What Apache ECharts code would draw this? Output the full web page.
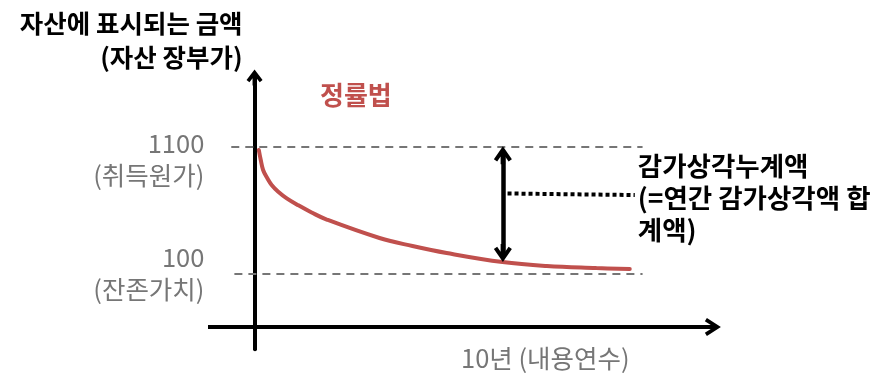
<!DOCTYPE html>
<html>
<head>
<meta charset="utf-8">
<script src="https://cdn.jsdelivr.net/npm/echarts@6/dist/echarts.min.js"></script>
<style>
  html, body { margin: 0; padding: 0; background: #fff; }
  #chart { width: 890px; height: 391px; }
</style>
</head>
<body>
<div id="chart"></div>
<script>
// book value under the declining-balance method
const years = [0.11, 0.16, 0.22, 0.33, 0.44, 0.61, 0.83, 1.13, 1.47, 1.86, 3.22, 4.07, 4.95, 6.39, 7.53, 8.81, 9.67]
const bookValues = [1071, 992, 914, 848, 796, 743, 691, 636, 580, 524, 379, 316, 261, 190, 159, 143, 135]

const costValue = 1100
const residualValue = 100
const usefulLife = 10
const refValues = [costValue, residualValue]
const refLabels = ['1100', '100']
const refSubLabels = ['(취득원가)', '(잔존가치)']

const yTitleLines = ['자산에 표시되는 금액', '(자산 장부가)']
const xTickLabel = '10년 (내용연수)'
const methodLabel = '정률법'
const noteLines = ['감가상각누계액', '(=연간 감가상각액 합', '계액)']

// accumulated depreciation arrow: year and the book value it reaches
const arrowYear = 6.4
const arrowBottom = 190
// dotted leader from the arrow to the note
const leaderFrom = [6.52, 729]
const leaderTo = [9.8, 717]

const X_MIN = -1.2, X_MAX = 11.8
const Y_MIN = -495, Y_MAX = 1640
const xAxisLevel = -320
const gridH = 271.6
const pxPerUnit = gridH / (Y_MAX - Y_MIN)

const font = "'Noto Sans CJK KR', 'Noto Sans', sans-serif"
const gray = '#767676'
const red = '#c0504d'

// filled "open" arrow head with shaft, pointing up, W wide and L long
function arrowPath(W, H, t, s, L) {
  const len = Math.hypot(W / 2, H)
  const nx = t * H / len, ny = t * W / (2 * len)
  const yj = ny + (s / 2 + nx) * (2 * H / W)
  const c = W / 2
  const pts = [[c, 0], [W, H], [W - nx, H + ny], [c + s / 2, yj], [c + s / 2, L],
    [c - s / 2, L], [c - s / 2, yj], [nx, H + ny], [0, H]]
  return 'path://M' + pts.map(p => p[0].toFixed(2) + ',' + p[1].toFixed(2)).join(' L') + ' Z'
}

const yArrow = arrowPath(16, 10.5, 3.6, 4, 16)
const xArrow = arrowPath(18, 14, 3.8, 4, 17)
const dArrow = arrowPath(18, 13, 4, 4.5, 18)
const dOff = 9 / pxPerUnit

const chart = echarts.init(document.getElementById('chart'))

const dashed = { color: gray, width: 2, type: [8, 6] }
const grayText = { color: gray, fontSize: 25.5, lineHeight: 32, fontFamily: font }
const boldText = { color: '#000', fontSize: 26.5, fontWeight: 'bold', lineHeight: 32, fontFamily: font }

// stacked label; an optional spacer line pushes the block down
function stacked(lines, gap) {
  const body = lines.map(l => '{t|' + l + '}').join('\n')
  return gap ? '{g| }\n' + body : body
}

chart.setOption({
  animation: false,
  title: {
    text: methodLabel, left: 320, top: 82, padding: 0,
    textStyle: { color: red, fontSize: 26, fontWeight: 'bold', fontFamily: font }
  },
  grid: { left: 208, top: 77.6, width: 504.4, height: gridH },
  xAxis: {
    type: 'value', min: X_MIN, max: X_MAX,
    axisLine: { show: false },
    axisTick: { show: false },
    splitLine: { show: false },
    axisLabel: {
      customValues: [usefulLife],
      formatter: () => xTickLabel,
      align: 'right', verticalAlign: 'middle', margin: 9,
      padding: [0, 13, 0, 0],
      color: gray, fontSize: 25.5, fontFamily: font
    }
  },
  yAxis: {
    type: 'value', min: Y_MIN, max: Y_MAX,
    name: yTitleLines.join('\n'),
    nameLocation: 'end', nameGap: 3,
    nameTextStyle: {
      align: 'right', verticalAlign: 'bottom', padding: [0, 12, 0, 0],
      color: '#000', fontSize: 25.5, fontWeight: 'bold', lineHeight: 34, fontFamily: font
    },
    axisLine: {
      show: true, onZero: true,
      symbol: ['none', yArrow], symbolSize: [16, 16],
      lineStyle: { color: '#000', width: 4 }
    },
    axisTick: { show: false },
    axisLabel: { show: false },
    splitLine: { show: false }
  },
  series: [
    {
      type: 'line',
      data: years.map((y, i) => [y, bookValues[i]]),
      smooth: 0.4,
      showSymbol: false,
      z: 3,
      lineStyle: { color: red, width: 4, cap: 'round' }
    },
    {
      type: 'line',
      data: [],
      z: 5,
      markLine: {
        silent: true,
        symbol: ['none', 'none'],
        label: { show: false },
        data: [
          // reference lines with their labels on the left
          [
            { coord: [-0.6, refValues[0]],
              lineStyle: dashed,
              label: { show: true, position: 'start', distance: 27,
                formatter: stacked([refLabels[0], refSubLabels[0]], true),
                rich: { t: grayText, g: { fontSize: 10, lineHeight: 26 } } } },
            { coord: [usefulLife, refValues[0]] }
          ],
          [
            { coord: [-0.52, refValues[1]],
              lineStyle: dashed,
              label: { show: true, position: 'start', distance: 30,
                formatter: stacked([refLabels[1], refSubLabels[1]], false),
                rich: { t: grayText } } },
            { coord: [usefulLife, refValues[1]] }
          ],
          // x axis with arrow
          [
            { coord: [X_MIN, xAxisLevel], lineStyle: { color: '#000', width: 4, type: 'solid' } },
            { coord: [X_MAX, xAxisLevel], symbol: xArrow, symbolSize: [18, 17] }
          ],
          // tick at end of useful life
          [
            { coord: [usefulLife, -85], lineStyle: { color: '#000', width: 4, type: 'solid' } },
            { coord: [usefulLife, -502] }
          ],
          // accumulated depreciation double arrow
          [
            { coord: [arrowYear, costValue - dOff], symbol: dArrow, symbolSize: [18, 18],
              lineStyle: { color: '#000', width: 4.5, type: 'solid' } },
            { coord: [arrowYear, arrowBottom + dOff], symbol: dArrow, symbolSize: [18, 18] }
          ],
          // dotted leader with the note
          [
            { coord: leaderFrom, lineStyle: { color: '#000', width: 4, type: [4, 3] },
              label: { show: true, position: 'end', distance: 3,
                formatter: stacked(noteLines, true),
                rich: { t: boldText, g: { fontSize: 6, lineHeight: 6 } } } },
            { coord: leaderTo }
          ]
        ]
      }
    }
  ]
})
</script>
</body>
</html>
